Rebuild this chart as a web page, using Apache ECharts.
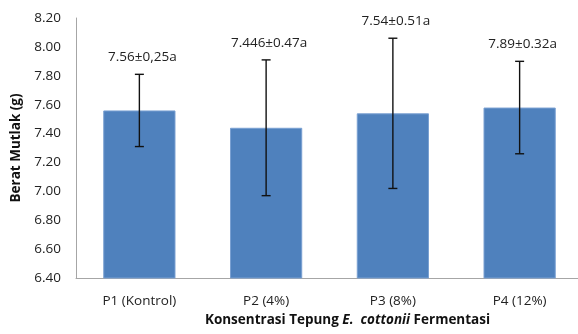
<!DOCTYPE html>
<html><head><meta charset="utf-8">
<script src="https://cdn.jsdelivr.net/npm/echarts@6/dist/echarts.min.js"></script>
<style>html,body{margin:0;padding:0;background:#fff}#c{width:578px;height:334px}</style>
</head><body><div id="c"></div>
<script>
const categories = ['P1 (Kontrol)', 'P2 (4%)', 'P3 (8%)', 'P4 (12%)'];
const means = [7.56, 7.44, 7.54, 7.58];
const errLow = [7.31, 6.97, 7.02, 7.26];
const errHigh = [7.81, 7.91, 8.06, 7.90];
const barLabels = ['7.56±0,25a', '7.446±0.47a', '7.54±0.51a', '7.89±0.32a'];
const yMin = 6.4, yMax = 8.2, yStep = 0.2;

const FONT = 'Open Sans';
const chart = echarts.init(document.getElementById('c'));
chart.setOption({
  animation: false,
  textStyle: { fontFamily: FONT },
  grid: { left: 76, right: -5, top: 18, bottom: 56, outerBoundsMode: 'none' },
  xAxis: {
    type: 'category', data: categories,
    axisLine: { lineStyle: { color: '#a6a6a6', width: 1 } },
    axisTick: { show: false },
    axisLabel: { color: '#222', fontSize: 13.5, margin: 16, fontFamily: FONT },
    name: '{b|Konsentrasi Tepung }{i|E.  cottonii}{b| Fermentasi}',
    nameLocation: 'middle', nameGap: 33,
    nameTextStyle: {
      padding: [0, 0, 0, 36],
      rich: {
        b: { fontWeight: 'bold', fontSize: 13.5, color: '#111', fontFamily: FONT },
        i: { fontWeight: 'bold', fontStyle: 'italic', fontSize: 13.5, color: '#111', fontFamily: FONT }
      }
    }
  },
  yAxis: {
    type: 'value', min: yMin, max: yMax, interval: yStep,
    axisLine: { show: true, lineStyle: { color: '#a6a6a6', width: 1 } },
    axisTick: { show: false },
    splitLine: { show: false },
    axisLabel: { color: '#222', fontSize: 13.5, margin: 15, fontFamily: FONT, formatter: v => v.toFixed(2) },
    name: 'Berat Mutlak (g)', nameLocation: 'middle', nameGap: 52, nameRotate: 90,
    nameTextStyle: { fontWeight: 'bold', fontSize: 13.5, color: '#111', fontFamily: FONT }
  },
  series: [
    {
      type: 'bar', data: means, barCategoryGap: '43%',
      itemStyle: { color: '#4f81bd', borderColor: '#7aa0d2', borderWidth: 1 }
    },
    {
      type: 'custom',
      data: categories.map((c, i) => [i, errLow[i], errHigh[i]]),
      renderItem: function (params, api) {
        const x = api.value(0);
        const lo = api.coord([x, api.value(1)]);
        const hi = api.coord([x, api.value(2)]);
        const cap = 4.5;
        const st = { stroke: '#111', lineWidth: 1.4 };
        return {
          type: 'group',
          children: [
            { type: 'line', shape: { x1: hi[0], y1: hi[1], x2: lo[0], y2: lo[1] }, style: st },
            { type: 'line', shape: { x1: hi[0] - cap, y1: hi[1], x2: hi[0] + cap, y2: hi[1] }, style: st },
            { type: 'line', shape: { x1: lo[0] - cap, y1: lo[1], x2: lo[0] + cap, y2: lo[1] }, style: st },
            { type: 'text', style: { text: barLabels[params.dataIndex], x: hi[0] + 3, y: hi[1] - 17,
              align: 'center', verticalAlign: 'middle', fill: '#222', font: '13.5px ' + FONT } }
          ]
        };
      },
      z: 10
    }
  ]
});
</script></body></html>
